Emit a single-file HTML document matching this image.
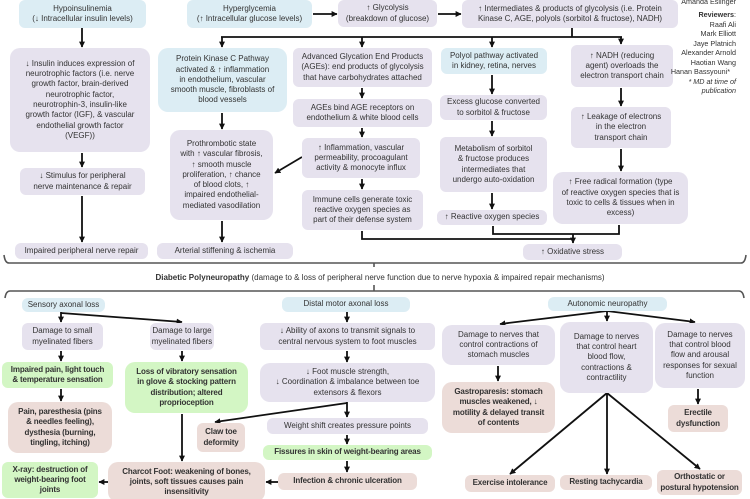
<!DOCTYPE html>
<html><head><meta charset="utf-8">
<style>
html,body{margin:0;padding:0;background:#fff;}
#root{position:relative;width:750px;height:499px;overflow:hidden;background:#fff;font-family:"Liberation Sans",Arial,sans-serif;color:#333;}
.b{position:absolute;box-sizing:border-box;display:flex;align-items:center;justify-content:center;text-align:center;border-radius:6px;font-size:8px;line-height:10.3px;white-space:nowrap;}
.bl{background:#dcedf4;}
.lv{background:#e6e2ee;}
.pk{background:#ecdcd8;font-weight:bold;letter-spacing:-0.15px;}
.gr{background:#d3f6c4;font-weight:bold;letter-spacing:-0.15px;}
.r10{border-radius:10px;}
svg{position:absolute;left:0;top:0;}
.cr{position:absolute;right:14px;text-align:right;font-size:7.2px;line-height:9.5px;color:#333;white-space:nowrap;}
</style></head><body><div id="root">

<svg width="750" height="499" viewBox="0 0 750 499">
<defs>
<marker id="a" viewBox="0 0 10 10" refX="9" refY="5" markerWidth="6" markerHeight="6" markerUnits="userSpaceOnUse" orient="auto"><path d="M0,0 L10,5 L0,10 z" fill="#111"/></marker>
</defs>
<g stroke="#111" stroke-width="1.8" fill="none">
<line x1="82" y1="28" x2="82" y2="47" marker-end="url(#a)"/>
<line x1="82" y1="153" x2="82" y2="167" marker-end="url(#a)"/>
<line x1="82" y1="196" x2="82" y2="242" marker-end="url(#a)"/>
<line x1="313" y1="14" x2="337" y2="14" marker-end="url(#a)"/>
<line x1="438" y1="14" x2="461" y2="14" marker-end="url(#a)"/>
<line x1="572" y1="28" x2="572" y2="37"/>
<line x1="221" y1="37" x2="622" y2="37"/>
<line x1="222" y1="37" x2="222" y2="47" marker-end="url(#a)"/>
<line x1="362" y1="37" x2="362" y2="47" marker-end="url(#a)"/>
<line x1="492" y1="37" x2="492" y2="47" marker-end="url(#a)"/>
<line x1="621" y1="37" x2="621" y2="44" marker-end="url(#a)"/>
<line x1="222" y1="113" x2="222" y2="129" marker-end="url(#a)"/>
<line x1="222" y1="221" x2="222" y2="242" marker-end="url(#a)"/>
<line x1="362" y1="88" x2="362" y2="98" marker-end="url(#a)"/>
<line x1="362" y1="128" x2="362" y2="137" marker-end="url(#a)"/>
<line x1="362" y1="179" x2="362" y2="189" marker-end="url(#a)"/>
<line x1="302" y1="157" x2="275" y2="173" marker-end="url(#a)"/>
<line x1="492" y1="75" x2="492" y2="94" marker-end="url(#a)"/>
<line x1="492" y1="121" x2="492" y2="136" marker-end="url(#a)"/>
<line x1="492" y1="193" x2="492" y2="209" marker-end="url(#a)"/>
<line x1="621" y1="88" x2="621" y2="106" marker-end="url(#a)"/>
<line x1="621" y1="149" x2="621" y2="171" marker-end="url(#a)"/>
<polyline points="362,231 362,239 573,239"/>
<polyline points="493,226 493,234 619,234 619,225"/>
<line x1="573" y1="234" x2="573" y2="243" marker-end="url(#a)"/>

<line x1="61" y1="312" x2="61" y2="322" marker-end="url(#a)"/>
<line x1="61" y1="313" x2="182" y2="322" marker-end="url(#a)"/>
<line x1="61" y1="351" x2="61" y2="361" marker-end="url(#a)"/>
<line x1="61" y1="389" x2="61" y2="401" marker-end="url(#a)"/>
<line x1="182" y1="351" x2="182" y2="361" marker-end="url(#a)"/>
<line x1="182" y1="414" x2="182" y2="461" marker-end="url(#a)"/>
<line x1="108" y1="482" x2="99" y2="482" marker-end="url(#a)"/>
<line x1="347" y1="312" x2="347" y2="322" marker-end="url(#a)"/>
<line x1="347" y1="351" x2="347" y2="362" marker-end="url(#a)"/>
<line x1="347" y1="402" x2="347" y2="417" marker-end="url(#a)"/>
<line x1="347" y1="403" x2="215" y2="422" marker-end="url(#a)"/>
<line x1="347" y1="435" x2="347" y2="444" marker-end="url(#a)"/>
<line x1="347" y1="461" x2="347" y2="472" marker-end="url(#a)"/>
<line x1="278" y1="482" x2="266" y2="482" marker-end="url(#a)"/>
<line x1="607" y1="311" x2="500" y2="324" marker-end="url(#a)"/>
<line x1="607" y1="311" x2="607" y2="321" marker-end="url(#a)"/>
<line x1="607" y1="311" x2="695" y2="322" marker-end="url(#a)"/>
<line x1="498" y1="366" x2="498" y2="381" marker-end="url(#a)"/>
<line x1="607" y1="393" x2="510" y2="474" marker-end="url(#a)"/>
<line x1="607" y1="393" x2="607" y2="474" marker-end="url(#a)"/>
<line x1="607" y1="393" x2="700" y2="469" marker-end="url(#a)"/>
<line x1="698" y1="389" x2="698" y2="404" marker-end="url(#a)"/>
</g>
<g stroke="#555" stroke-width="1.6" fill="none">
<path d="M4,255 Q5,263 9,263 L741,263 Q745,263 746,255"/>
<line x1="374" y1="263" x2="374" y2="267"/>
<line x1="374" y1="285" x2="374" y2="291"/>
<path d="M5,298 Q6,291 10,291 L739,291 Q743,291 744,298"/>
</g>
</svg>

<div class="b bl" style="left:19px;top:0;width:127px;height:28px;">Hypoinsulinemia<br>(↓ Intracellular insulin levels)</div>
<div class="b lv r10" style="left:10px;top:48px;width:140px;height:104px;">↓ Insulin induces expression of<br>neurotrophic factors (i.e. nerve<br>growth factor, brain-derived<br>neurotrophic factor,<br>neurotrophin-3, insulin-like<br>growth factor (IGF), &amp; vascular<br>endothelial growth factor<br>(VEGF))</div>
<div class="b lv" style="left:20px;top:168px;width:125px;height:27px;">↓ Stimulus for peripheral<br>nerve maintenance &amp; repair</div>
<div class="b lv" style="left:15px;top:243px;width:133px;height:16px;">Impaired peripheral nerve repair</div>

<div class="b bl" style="left:187px;top:0;width:125px;height:28px;">Hyperglycemia<br>(↑ Intracellular glucose levels)</div>
<div class="b lv" style="left:338px;top:0;width:99px;height:27px;">↑ Glycolysis<br>(breakdown of glucose)</div>
<div class="b lv" style="left:462px;top:0;width:216px;height:28px;">↑ Intermediates &amp; products of glycolysis (i.e. Protein<br>Kinase C, AGE, polyols (sorbitol &amp; fructose), NADH)</div>

<div class="b bl r10" style="left:158px;top:48px;width:129px;height:64px;">Protein Kinase C Pathway<br>activated &amp; ↑ inflammation<br>in endothelium, vascular<br>smooth muscle, fibroblasts of<br>blood vessels</div>
<div class="b lv r10" style="left:170px;top:130px;width:103px;height:90px;">Prothrombotic state<br>with ↑ vascular fibrosis,<br>↑ smooth muscle<br>proliferation, ↑ chance<br>of blood clots, ↑<br>impaired endothelial-<br>mediated vasodilation</div>
<div class="b lv" style="left:157px;top:243px;width:136px;height:16px;">Arterial stiffening &amp; ischemia</div>

<div class="b lv" style="left:293px;top:48px;width:139px;height:39px;">Advanced Glycation End Products<br>(AGEs): end products of glycolysis<br>that have carbohydrates attached</div>
<div class="b lv" style="left:293px;top:99px;width:139px;height:28px;">AGEs bind AGE receptors on<br>endothelium &amp; white blood cells</div>
<div class="b lv" style="left:302px;top:138px;width:118px;height:40px;">↑ Inflammation, vascular<br>permeability, procoagulant<br>activity &amp; monocyte influx</div>
<div class="b lv" style="left:302px;top:190px;width:121px;height:40px;">Immune cells generate toxic<br>reactive oxygen species as<br>part of their defense system</div>

<div class="b bl" style="left:441px;top:48px;width:106px;height:26px;">Polyol pathway activated<br>in kidney, retina, nerves</div>
<div class="b lv" style="left:440px;top:95px;width:107px;height:25px;">Excess glucose converted<br>to sorbitol &amp; fructose</div>
<div class="b lv" style="left:440px;top:137px;width:107px;height:55px;">Metabolism of sorbitol<br>&amp; fructose produces<br>intermediates that<br>undergo auto-oxidation</div>
<div class="b lv" style="left:437px;top:210px;width:110px;height:15px;">↑ Reactive oxygen species</div>

<div class="b lv" style="left:571px;top:45px;width:102px;height:42px;">↑ NADH (reducing<br>agent) overloads the<br>electron transport chain</div>
<div class="b lv" style="left:571px;top:107px;width:100px;height:41px;">↑ Leakage of electrons<br>in the electron<br>transport chain</div>
<div class="b lv r10" style="left:553px;top:172px;width:135px;height:52px;">↑ Free radical formation (type<br>of reactive oxygen species that is<br>toxic to cells &amp; tissues when in<br>excess)</div>
<div class="b lv" style="left:523px;top:244px;width:99px;height:16px;">↑ Oxidative stress</div>

<div class="cr" style="top:-3px;">Amanda Eslinger</div>
<div class="cr" style="top:10px;"><b>Reviewers</b>:<br>Raafi Ali<br>Mark Elliott<br>Jaye Platnich<br>Alexander Arnold<br>Haotian Wang<br><span style="padding-right:6px">Hanan Bassyouni*</span><br><i>* MD at time of</i><br><i>publication</i></div>

<div style="position:absolute;left:0;width:760px;top:273px;text-align:center;font-size:8px;line-height:10px;white-space:nowrap;color:#333;"><b>Diabetic Polyneuropathy</b> (damage to &amp; loss of peripheral nerve function due to nerve hypoxia &amp; impaired repair mechanisms)</div>

<div class="b bl" style="left:22px;top:298px;width:83px;height:14px;">Sensory axonal loss</div>
<div class="b lv" style="left:22px;top:323px;width:81px;height:27px;">Damage to small<br>myelinated fibers</div>
<div class="b gr" style="left:2px;top:362px;width:111px;height:26px;">Impaired pain, light touch<br>&amp; temperature sensation</div>
<div class="b pk r10" style="left:8px;top:402px;width:104px;height:51px;">Pain, paresthesia (pins<br>&amp; needles feeling),<br>dysthesia (burning,<br>tingling, itching)</div>
<div class="b gr" style="left:2px;top:462px;width:96px;height:36px;">X-ray: destruction of<br>weight-bearing foot<br>joints</div>

<div class="b lv" style="left:150px;top:323px;width:64px;height:27px;">Damage to large<br>myelinated fibers</div>
<div class="b gr r10" style="left:125px;top:362px;width:123px;height:51px;">Loss of vibratory sensation<br>in glove &amp; stocking pattern<br>distribution; altered<br>proprioception</div>
<div class="b pk" style="left:197px;top:423px;width:48px;height:29px;">Claw toe<br>deformity</div>
<div class="b pk r10" style="left:108px;top:462px;width:157px;height:40px;">Charcot Foot: weakening of bones,<br>joints, soft tissues causes pain<br>insensitivity</div>

<div class="b bl" style="left:282px;top:297px;width:128px;height:15px;">Distal motor axonal loss</div>
<div class="b lv" style="left:260px;top:323px;width:175px;height:27px;">↓ Ability of axons to transmit signals to<br>central nervous system to foot muscles</div>
<div class="b lv r10" style="left:260px;top:363px;width:175px;height:39px;">↓ Foot muscle strength,<br>↓ Coordination &amp; imbalance between toe<br>extensors &amp; flexors</div>
<div class="b lv" style="left:267px;top:418px;width:161px;height:16px;">Weight shift creates pressure points</div>
<div class="b gr" style="left:263px;top:445px;width:169px;height:15px;">Fissures in skin of weight-bearing areas</div>
<div class="b pk" style="left:278px;top:473px;width:139px;height:17px;">Infection &amp; chronic ulceration</div>

<div class="b bl" style="left:548px;top:297px;width:119px;height:14px;">Autonomic neuropathy</div>
<div class="b lv r10" style="left:442px;top:325px;width:113px;height:40px;">Damage to nerves that<br>control contractions of<br>stomach muscles</div>
<div class="b pk r10" style="left:442px;top:382px;width:113px;height:51px;">Gastroparesis: stomach<br>muscles weakened, ↓<br>motility &amp; delayed transit<br>of contents</div>
<div class="b lv r10" style="left:560px;top:322px;width:93px;height:71px;">Damage to nerves<br>that control heart<br>blood flow,<br>contractions &amp;<br>contractility</div>
<div class="b lv r10" style="left:655px;top:323px;width:90px;height:65px;">Damage to nerves<br>that control blood<br>flow and arousal<br>responses for sexual<br>function</div>
<div class="b pk" style="left:668px;top:405px;width:60px;height:27px;">Erectile<br>dysfunction</div>
<div class="b pk" style="left:465px;top:475px;width:90px;height:17px;">Exercise intolerance</div>
<div class="b pk" style="left:560px;top:475px;width:92px;height:15px;">Resting tachycardia</div>
<div class="b pk" style="left:657px;top:470px;width:85px;height:25px;">Orthostatic or<br>postural hypotension</div>

</div></body></html>
